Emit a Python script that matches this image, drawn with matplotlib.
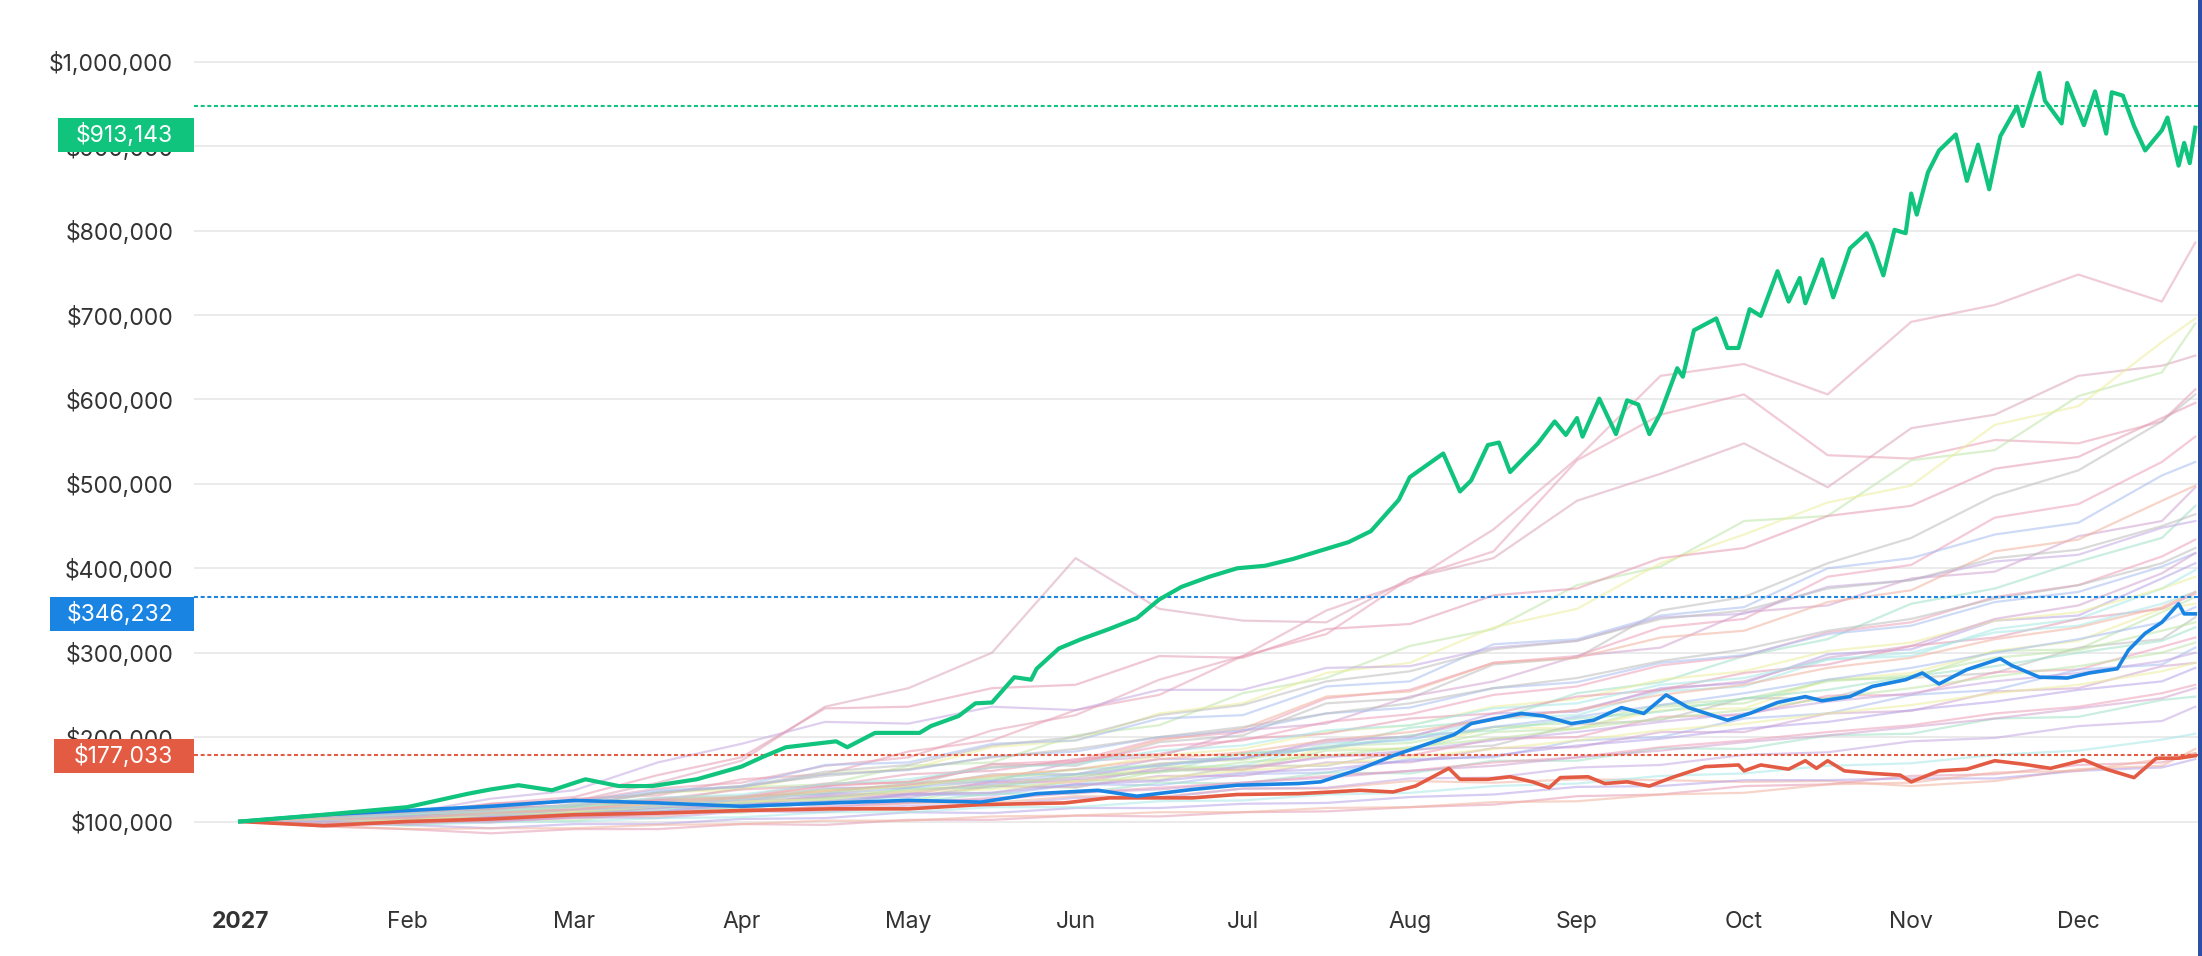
import matplotlib
matplotlib.use("Agg")
import matplotlib.pyplot as plt
from matplotlib.patches import Rectangle
from matplotlib.ticker import FuncFormatter

plt.rcParams['font.family'] = ['Inter', 'DejaVu Sans']

# x axis: simulation step (30 steps per month), values in $k
month_labels = ['2027', 'Feb', 'Mar', 'Apr', 'May', 'Jun', 'Jul', 'Aug', 'Sep', 'Oct', 'Nov', 'Dec']
month_steps = [0, 30, 60, 90, 120, 150, 180, 210, 240, 270, 300, 330]

# best path (green)
best_steps = [0, 15, 30, 41, 45, 50, 56, 62, 68, 74, 82, 90, 94, 98, 107, 109, 114, 122, 124, 129,
              132, 135, 139, 142, 143, 147, 151, 156, 161, 165, 169, 174, 179, 184, 189, 194, 199, 203,
              208, 210, 216, 219, 221, 224, 226, 228, 233, 236, 238, 240, 241, 244, 247, 249, 251, 253,
              255, 258, 259, 261, 265, 267, 269, 271, 273, 276, 278, 280, 281, 284, 286, 289, 292, 293,
              295, 297, 299, 300, 301, 303, 305, 308, 310, 312, 314, 316, 319, 320, 323, 324, 327, 328,
              331, 333, 335, 336, 338, 340, 342, 345, 346, 348, 349, 350, 351]
best_vals = [100, 108, 117, 133, 138, 143, 137, 150, 142, 142, 150, 165, 177, 188, 195, 188, 205, 205, 213, 225,
             240, 241, 271, 268, 281, 305, 316, 328, 341, 363, 378, 390, 400, 403, 411, 421, 431, 444,
             481, 508, 536, 491, 504, 546, 549, 514, 548, 574, 558, 578, 556, 601, 559, 599, 594, 559,
             584, 637, 627, 682, 696, 661, 661, 707, 699, 752, 716, 744, 714, 766, 721, 779, 797, 784,
             747, 801, 797, 844, 819, 869, 895, 914, 859, 902, 849, 912, 947, 924, 987, 954, 927, 975,
             925, 965, 915, 964, 960, 924, 895, 919, 934, 877, 904, 880, 922]

# median path (blue)
mid_steps = [0, 15, 30, 45, 60, 75, 90, 106, 120, 133, 143, 154, 161, 171, 179, 190, 194, 201, 207, 211,
             218, 221, 230, 234, 239, 243, 248, 252, 256, 260, 267, 271, 276, 281, 284, 289, 293, 299,
             302, 305, 310, 316, 318, 323, 328, 332, 337, 339, 342, 345, 348, 349, 351]
mid_vals = [100, 108, 113, 118, 125, 122, 118, 122, 125, 123, 133, 137, 130, 138, 143, 145, 147, 162, 178, 187,
            203, 216, 228, 225, 216, 220, 235, 228, 250, 235, 220, 228, 241, 248, 243, 248, 260, 268,
            276, 263, 280, 293, 285, 271, 270, 276, 281, 303, 323, 336, 358, 346, 346]

# worst path (red)
low_steps = [0, 15, 30, 45, 60, 75, 90, 106, 120, 133, 148, 156, 171, 179, 190, 196, 201, 207, 211, 217,
             219, 224, 228, 232, 235, 237, 242, 245, 249, 253, 257, 263, 269, 270, 273, 278, 281, 283,
             285, 288, 293, 298, 300, 305, 310, 315, 320, 325, 331, 335, 340, 344, 348, 351]
low_vals = [100, 95, 100, 103, 108, 110, 113, 115, 115, 120, 122, 128, 128, 132, 133, 135, 137, 135, 142, 163,
            150, 150, 153, 147, 140, 152, 153, 145, 147, 142, 152, 165, 167, 160, 167, 162, 172, 163,
            172, 160, 157, 155, 147, 160, 162, 172, 168, 163, 173, 162, 152, 175, 175, 178]

# other simulated paths, sampled every half month
bg_steps = [0, 15, 30, 45, 60, 75, 90, 105, 120, 135, 150, 165, 180, 195, 210, 225, 240, 255, 270, 285,
            300, 315, 330, 345, 351]
bg_paths = [
    [100, 106, 110, 121, 124, 139, 146, 166, 176, 208, 226, 268, 296, 350, 384, 446, 530, 628, 642, 606, 692, 712, 748, 716, 786],
    [100, 105, 108, 120, 124, 146, 172, 236, 258, 300, 412, 352, 338, 336, 388, 412, 480, 512, 548, 496, 566, 582, 628, 640, 652],
    [100, 102, 110, 113, 127, 131, 150, 156, 183, 196, 232, 250, 296, 322, 388, 420, 528, 582, 606, 534, 530, 552, 548, 574, 612],
    [100, 97, 106, 107, 121, 122, 140, 144, 166, 170, 202, 214, 252, 270, 308, 328, 380, 402, 456, 462, 528, 540, 604, 632, 690],
    [100, 103, 105, 116, 118, 134, 138, 157, 162, 188, 196, 228, 240, 276, 288, 330, 352, 406, 440, 478, 498, 570, 592, 668, 696],
    [100, 102, 96, 107, 110, 123, 122, 138, 142, 168, 166, 194, 202, 240, 246, 286, 294, 350, 366, 406, 436, 486, 516, 574, 606],
    [100, 105, 108, 117, 118, 128, 130, 145, 146, 168, 172, 198, 206, 246, 256, 288, 296, 330, 340, 390, 404, 460, 476, 526, 556],
    [100, 104, 106, 116, 118, 135, 142, 167, 170, 192, 196, 222, 226, 260, 266, 310, 316, 344, 354, 400, 412, 440, 454, 510, 526],
    [100, 98, 105, 106, 117, 115, 130, 133, 144, 148, 171, 177, 208, 216, 248, 266, 296, 306, 348, 356, 388, 396, 438, 456, 496],
    [100, 103, 102, 113, 113, 127, 128, 143, 147, 165, 169, 196, 210, 248, 254, 288, 294, 318, 326, 360, 374, 420, 434, 480, 498],
    [100, 97, 103, 103, 113, 113, 126, 126, 139, 140, 156, 159, 181, 187, 211, 220, 252, 265, 296, 316, 358, 376, 408, 436, 474],
    [100, 106, 110, 127, 137, 170, 192, 218, 216, 236, 232, 256, 256, 282, 284, 306, 314, 342, 346, 378, 386, 408, 416, 448, 456],
    [100, 104, 107, 121, 129, 155, 176, 234, 236, 258, 262, 296, 294, 328, 334, 368, 376, 412, 424, 462, 474, 518, 532, 578, 596],
    [100, 102, 102, 111, 110, 125, 124, 140, 140, 156, 156, 174, 174, 197, 200, 228, 230, 258, 264, 298, 304, 338, 344, 388, 406],
    [100, 103, 98, 106, 105, 116, 114, 128, 127, 145, 143, 164, 166, 192, 196, 222, 226, 254, 260, 292, 296, 328, 340, 376, 398],
    [100, 100, 95, 102, 101, 112, 110, 125, 124, 142, 140, 160, 161, 184, 186, 206, 210, 236, 240, 268, 270, 302, 304, 348, 366],
    [100, 104, 104, 113, 112, 123, 121, 136, 135, 151, 148, 166, 163, 187, 186, 212, 210, 232, 234, 268, 276, 302, 314, 352, 358],
    [100, 96, 101, 101, 109, 109, 119, 120, 133, 134, 149, 149, 166, 166, 185, 190, 215, 220, 246, 246, 270, 276, 306, 316, 342],
    [100, 102, 101, 109, 107, 120, 118, 133, 132, 147, 146, 163, 161, 178, 178, 198, 200, 224, 226, 249, 250, 277, 280, 307, 318],
    [100, 98, 104, 102, 112, 111, 122, 121, 132, 131, 144, 143, 156, 158, 174, 176, 196, 200, 222, 228, 250, 256, 280, 286, 306],
    [100, 103, 103, 112, 110, 121, 119, 130, 129, 142, 141, 154, 154, 170, 170, 187, 188, 206, 206, 228, 231, 254, 258, 284, 288],
    [100, 97, 100, 99, 106, 106, 114, 113, 122, 122, 130, 129, 139, 139, 148, 146, 150, 149, 147, 148, 142, 148, 162, 166, 186],
    [100, 101, 102, 109, 108, 117, 116, 125, 123, 133, 133, 146, 145, 158, 157, 172, 172, 187, 186, 202, 204, 222, 224, 244, 248],
    [100, 96, 99, 99, 105, 104, 112, 111, 119, 119, 128, 128, 139, 140, 151, 152, 164, 167, 179, 182, 195, 199, 213, 219, 236],
    [100, 94, 91, 86, 91, 91, 97, 96, 102, 102, 107, 106, 111, 112, 117, 120, 130, 132, 142, 144, 154, 156, 167, 170, 181],
    [100, 97, 96, 92, 97, 97, 103, 104, 111, 110, 116, 116, 121, 122, 129, 132, 141, 142, 149, 149, 151, 151, 160, 164, 174],
    [100, 100, 96, 99, 100, 104, 105, 111, 111, 117, 117, 124, 125, 132, 134, 142, 145, 154, 157, 166, 169, 179, 184, 197, 204],
    [100, 104, 107, 114, 117, 126, 129, 138, 141, 153, 156, 169, 173, 189, 193, 212, 217, 238, 245, 266, 273, 294, 303, 326, 336],
    [100, 102, 103, 110, 112, 121, 125, 136, 141, 155, 161, 178, 186, 206, 214, 236, 245, 268, 278, 302, 312, 338, 348, 376, 390],
    [100, 103, 106, 115, 119, 134, 141, 159, 167, 190, 200, 226, 238, 266, 278, 304, 314, 340, 350, 376, 386, 412, 422, 450, 464],
    [100, 102, 103, 111, 114, 125, 128, 142, 147, 164, 170, 189, 196, 218, 227, 250, 260, 285, 296, 324, 336, 366, 380, 414, 434],
    [100, 105, 109, 119, 123, 137, 141, 156, 161, 177, 183, 200, 208, 228, 235, 258, 265, 288, 297, 322, 332, 360, 372, 402, 418],
    [100, 101, 101, 107, 108, 117, 118, 130, 133, 147, 152, 168, 175, 194, 201, 223, 232, 256, 266, 294, 308, 340, 356, 394, 418],
    [100, 95, 91, 92, 92, 96, 97, 101, 101, 106, 107, 111, 111, 116, 117, 123, 124, 132, 134, 144, 146, 158, 160, 174, 181],
    [100, 102, 108, 110, 118, 122, 128, 134, 146, 150, 162, 166, 180, 186, 202, 208, 222, 230, 246, 256, 272, 284, 300, 314, 330],
    [100, 99, 104, 106, 114, 116, 124, 128, 136, 144, 150, 160, 164, 176, 184, 196, 206, 218, 228, 242, 252, 266, 276, 290, 300],
    [100, 104, 106, 114, 120, 126, 138, 142, 156, 160, 174, 180, 198, 204, 222, 228, 248, 256, 276, 286, 308, 318, 340, 352, 370],
    [100, 101, 100, 106, 110, 112, 120, 124, 132, 134, 144, 148, 158, 162, 172, 178, 190, 198, 210, 218, 232, 242, 256, 266, 282],
    [100, 103, 109, 112, 120, 128, 132, 144, 150, 164, 168, 184, 190, 208, 214, 234, 240, 262, 270, 292, 300, 324, 332, 358, 372],
    [100, 98, 102, 108, 110, 118, 122, 128, 138, 142, 154, 158, 170, 178, 188, 198, 210, 222, 232, 246, 258, 272, 284, 300, 312],
    [100, 102, 101, 108, 112, 118, 124, 126, 136, 138, 148, 152, 160, 168, 176, 186, 196, 208, 216, 228, 238, 252, 262, 278, 288],
    [100, 105, 110, 118, 124, 134, 142, 154, 162, 176, 186, 200, 212, 228, 240, 258, 270, 290, 304, 326, 340, 364, 380, 406, 424],
    [100, 99, 97, 102, 104, 110, 112, 118, 122, 128, 134, 140, 146, 154, 160, 170, 176, 188, 196, 206, 214, 228, 236, 252, 262],
    [100, 101, 106, 108, 114, 118, 126, 132, 140, 148, 156, 166, 176, 188, 198, 212, 224, 238, 252, 268, 282, 300, 316, 336, 354],
    [100, 97, 100, 100, 105, 108, 114, 116, 124, 126, 134, 138, 146, 152, 160, 166, 176, 184, 194, 202, 212, 222, 234, 246, 258],
    [100, 103, 104, 110, 114, 122, 128, 136, 144, 154, 162, 174, 182, 196, 206, 222, 232, 250, 262, 282, 294, 316, 330, 354, 372],
]
pastels = ['#e59ab2', '#b7a2e6', '#a4e9e6', '#bde5a6', '#ecee9c', '#bdbdbd', '#ee9fb9', '#a6bdf0',
           '#d1a3cf', '#f2b29e', '#9fe0c6', '#c6a8e2']
top_colors = ['#e2a2b6', '#dba5bd', '#e9a0b4']

# reference levels and label values
best_line, mid_line, low_line = 948000, 366000, 179000
best_label, mid_label, low_label = 913143, 346232, 177033

GREEN = '#10c47e'
BLUE = '#1a84e3'
RED = '#e35b43'

W, H = 2202, 956
fig = plt.figure(figsize=(W / 100, H / 100), dpi=100)
ax = fig.add_axes([194 / W, 76 / H, 1 - 194 / W, 880 / H])

k = 1000
for i, path in enumerate(bg_paths):
    c = top_colors[i] if i < len(top_colors) else pastels[i % len(pastels)]
    ax.plot(bg_steps, [v * k for v in path], color=c, lw=1.6, alpha=0.55, zorder=1)

dash = (0, (1.9, 1.3))
ax.axhline(best_line, color=GREEN, lw=1.5, ls=dash, zorder=2)
ax.axhline(mid_line, color=BLUE, lw=1.5, ls=dash, zorder=2)
ax.axhline(low_line, color=RED, lw=1.5, ls=dash, zorder=2)

ax.plot(low_steps, [v * k for v in low_vals], color=RED, lw=2.6, zorder=3)
ax.plot(mid_steps, [v * k for v in mid_vals], color=BLUE, lw=2.6, zorder=3)
ax.plot(best_steps, [v * k for v in best_vals], color=GREEN, lw=3.0, zorder=4)

ax.set_xlim(-8.26, 352.2)
ax.set_ylim(30700, 1073300)
ax.set_yticks(range(100000, 1000001, 100000))
ax.yaxis.set_major_formatter(FuncFormatter(lambda v, p: '${:,.0f}'.format(v)))
ax.set_xticks(month_steps)
ax.set_xticklabels(month_labels)
ax.get_xticklabels()[0].set_fontweight('bold')
ax.tick_params(length=0, labelsize=16.5, colors='#333333')
ax.tick_params(axis='y', pad=15)
ax.tick_params(axis='x', pad=22)
ax.grid(axis='y', color='#e9e9e9', lw=1.3)
ax.set_axisbelow(True)
for s in ax.spines.values():
    s.set_visible(False)

# value badges on the left
yt = ax.get_yaxis_transform()
aw = W - 194
for val, col, left in [(best_label, GREEN, 58), (mid_label, BLUE, 50), (low_label, RED, 54)]:
    ax.add_patch(Rectangle(((left - 194) / aw, val - 20150), (194 - left) / aw, 40300,
                           transform=yt, clip_on=False, fc=col, ec='none', zorder=5))
    ax.text(-21 / aw, val, '${:,.0f}'.format(val), transform=yt, ha='right', va='center',
            color='white', fontsize=16.5, zorder=6, clip_on=False)

fig.add_artist(Rectangle((2198 / W, 0), 4 / W, 1, transform=fig.transFigure, fc='#2c4fa4', ec='none'))

fig.savefig('out.png', dpi=100, facecolor='white')
